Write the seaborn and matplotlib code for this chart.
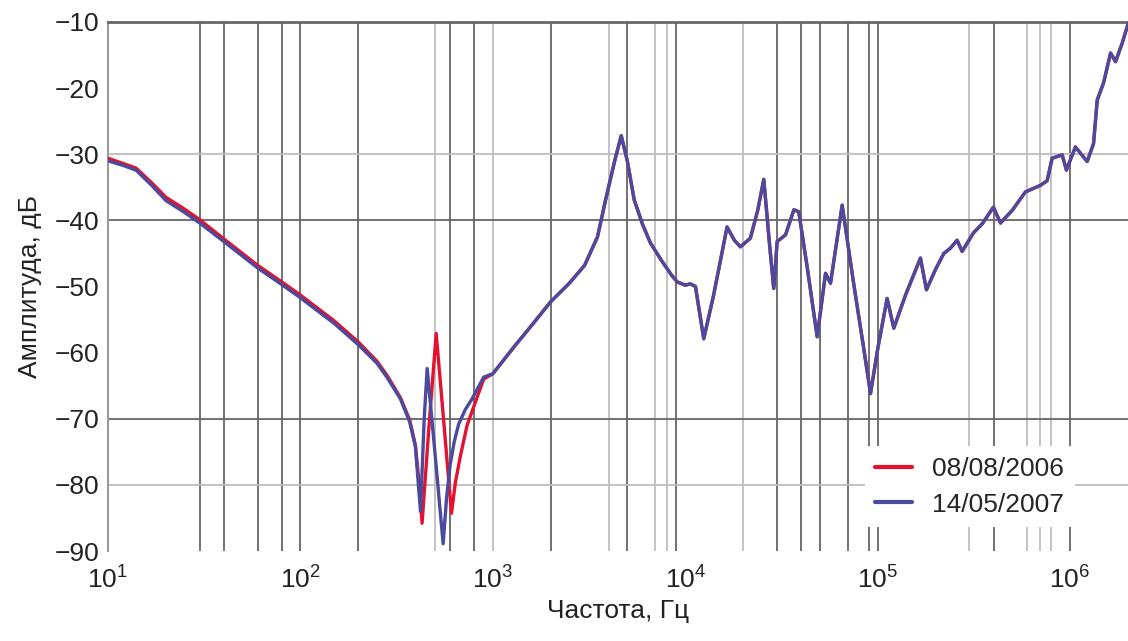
import matplotlib
matplotlib.use("Agg")
import numpy as np
import pandas as pd
import matplotlib.pyplot as plt
import seaborn as sns
from matplotlib.ticker import NullLocator

# frequency response data (Hz, dB)
freq_low = [10, 12, 14, 17, 20, 25, 30, 40, 50, 60, 80, 100, 150, 200, 250, 283, 331, 370]
amp_low_red = [-30.6, -31.4, -32.1, -34.4, -36.5, -38.3, -39.9, -42.8, -45.0, -46.8, -49.3,
               -51.3, -55.2, -58.4, -61.3, -63.5, -66.8, -70.2]
amp_low_blue = [-31.0, -31.7, -32.4, -34.8, -37.0, -38.8, -40.4, -43.2, -45.4, -47.2, -49.7,
                -51.7, -55.6, -58.8, -61.6, -63.8, -67.0, -70.5]

freq_dip_red = [396, 415, 429, 465, 508, 557, 610, 640, 680, 735, 800, 897]
amp_dip_red = [-74.0, -80.0, -85.8, -71.5, -57.1, -70.7, -84.3, -79.5, -75.5, -71.0, -68.0, -64.0]

freq_dip_blue = [396, 421, 440, 456, 500, 552, 575, 600, 630, 665, 720, 780, 897]
amp_dip_blue = [-74.2, -84.0, -70.0, -62.4, -75.0, -88.9, -82.0, -77.0, -73.5, -70.8, -68.6,
                -67.0, -63.7]

freq_high = [1000, 1300, 1600, 2000, 2500, 3000, 3500, 3850, 4300, 4650, 5000, 5430, 6000,
             6590, 7500, 8500, 9080, 10000, 10640, 11300, 12480, 14000, 16500, 18000, 19350,
             21800, 23800, 25600, 27500, 28840, 30050, 33200, 36700, 38900, 43000, 48500,
             53600, 56900, 65400, 75000, 85000, 91800, 100000, 112000, 121300, 140000,
             166900, 179300, 200000, 220800, 239000, 258800, 274800, 314500, 350000, 399700,
             434700, 500000, 586000, 701500, 760000, 807000, 910000, 957000, 1066000,
             1227000, 1324000, 1384000, 1493000, 1624000, 1723000, 1866000, 2000000]
amp_high = [-63.2, -59.0, -55.8, -52.3, -49.5, -46.8, -42.5, -37.0, -31.0, -27.2, -31.0,
            -36.9, -40.6, -43.4, -46.0, -48.3, -49.3, -49.8, -49.6, -50.0, -57.9, -51.5,
            -41.0, -43.0, -44.0, -42.7, -38.5, -33.8, -44.0, -50.3, -43.2, -42.2, -38.4,
            -38.7, -47.0, -57.6, -48.0, -49.5, -37.7, -49.5, -59.7, -66.2, -59.5, -51.8,
            -56.3, -51.2, -45.7, -50.5, -47.4, -45.0, -44.2, -43.0, -44.7, -41.9, -40.5,
            -38.0, -40.4, -38.5, -35.7, -34.7, -34.0, -30.6, -30.1, -32.4, -28.9, -31.1,
            -28.4, -21.8, -19.2, -14.7, -16.0, -13.2, -10.3]

labels = ["08/08/2006", "14/05/2007"]
colors = ["#e3122f", "#4a4a9e"]

grid_dark = [30, 40, 60, 80, 100, 200, 600, 800, 2000, 5000, 9000, 30000, 40000, 50000,
             70000, 90000, 100000, 400000, 1000000]
grid_light = [500, 1000, 4000, 7000, 8000, 20000, 300000, 600000, 700000, 800000]
hgrid_dark = [-40, -70]
hgrid_light = [-30, -80]

red = pd.DataFrame({"freq": freq_low + freq_dip_red + freq_high,
                    "amp": amp_low_red + amp_dip_red + amp_high})
red["date"] = labels[0]
blue = pd.DataFrame({"freq": freq_low + freq_dip_blue + freq_high,
                     "amp": amp_low_blue + amp_dip_blue + amp_high})
blue["date"] = labels[1]
df = pd.concat([red, blue], ignore_index=True)

sns.set_theme(style="white")
plt.rcParams["font.family"] = ["Liberation Sans", "DejaVu Sans"]
plt.rcParams["mathtext.fontset"] = "custom"
plt.rcParams["mathtext.rm"] = "Liberation Sans"
plt.rcParams["mathtext.it"] = "Liberation Sans:italic"
plt.rcParams["mathtext.bf"] = "Liberation Sans:bold"

fig = plt.figure(figsize=(11.28, 6.41), dpi=100)
ax = fig.add_axes([0.0957, 0.1404, 0.9043, 0.8253])
ax.set_xscale("log")

for f in grid_light:
    ax.axvline(f, color="#bdbdbd", lw=1.3, zorder=1)
for f in grid_dark:
    ax.axvline(f, color="#666666", lw=1.3, zorder=1)
for v in hgrid_light:
    ax.axhline(v, color="#bdbdbd", lw=1.3, zorder=1)
for v in hgrid_dark:
    ax.axhline(v, color="#666666", lw=1.3, zorder=1)

sns.lineplot(data=df, x="freq", y="amp", hue="date", hue_order=labels,
             palette=dict(zip(labels, colors)), estimator=None, sort=False,
             linewidth=2.4, ax=ax, zorder=3)

ax.set_xlim(10, 2e6)
ax.set_ylim(-90, -10)
ax.set_xticks([10 ** k for k in range(1, 7)])
ax.xaxis.set_minor_locator(NullLocator())
ax.set_yticks(range(-90, -9, 10))
ax.tick_params(length=0, labelsize=19, colors="#222222")
ax.tick_params(axis="y", pad=6)
ax.tick_params(axis="x", pad=11)

for s in ["right", "bottom"]:
    ax.spines[s].set_visible(False)
ax.spines["top"].set_color("#666666")
ax.spines["top"].set_linewidth(2)
ax.spines["left"].set_color("#9a9a9a")
ax.spines["left"].set_linewidth(1.5)

ax.set_xlabel("Частота, Гц", fontsize=19, color="#222222", labelpad=4)
ax.set_ylabel("Амплитуда, дБ", fontsize=19, color="#222222", labelpad=9)

handles, labs = ax.get_legend_handles_labels()
leg = ax.legend(handles, labs, loc="upper left", bbox_to_anchor=(0.742, 0.198),
                borderaxespad=0, frameon=True, fontsize=19, handlelength=1.4,
                handletextpad=0.75, labelspacing=0.45, borderpad=0.4)
leg.get_frame().set_facecolor("white")
leg.get_frame().set_edgecolor("none")
leg.get_frame().set_alpha(1)
for line in leg.get_lines():
    line.set_linewidth(3)

fig.savefig("out.png", dpi=100)
